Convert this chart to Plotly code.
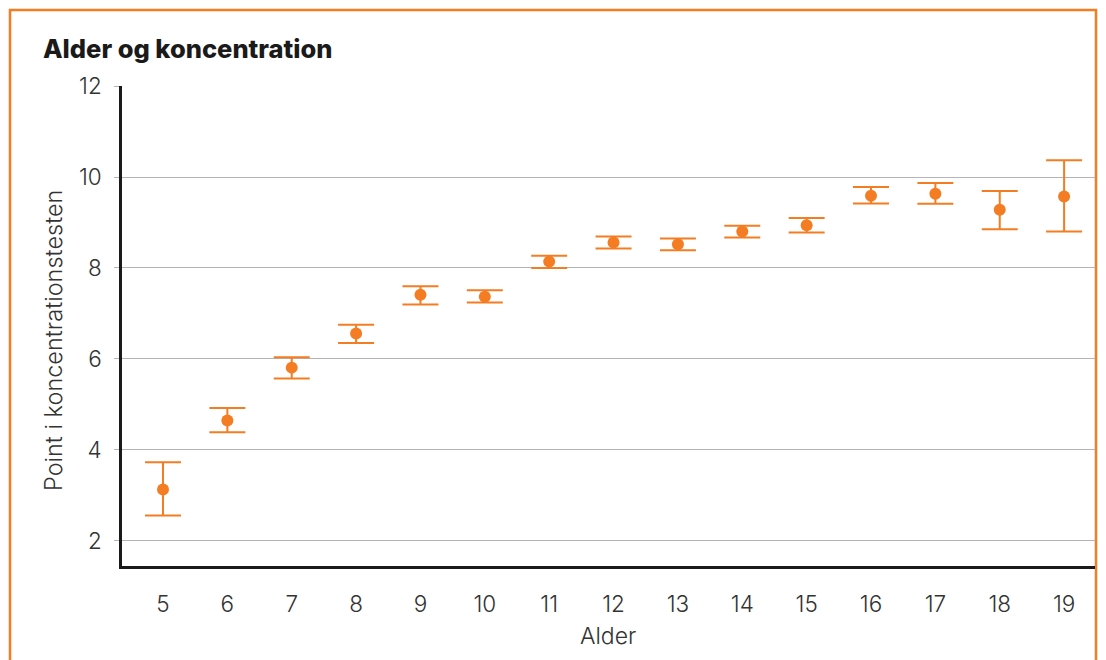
import plotly.graph_objects as go

ages = [5, 6, 7, 8, 9, 10, 11, 12, 13, 14, 15, 16, 17, 18, 19]
means = [3.13, 4.65, 5.81, 6.56, 7.41, 7.37, 8.14, 8.56, 8.52, 8.80, 8.94, 9.59, 9.63, 9.28, 9.57]
upper = [3.73, 4.92, 6.04, 6.75, 7.60, 7.51, 8.27, 8.69, 8.65, 8.93, 9.10, 9.78, 9.87, 9.69, 10.37]
lower = [2.56, 4.39, 5.57, 6.35, 7.20, 7.24, 8.00, 8.43, 8.39, 8.67, 8.78, 9.42, 9.41, 8.85, 8.80]
y_ticks = [2, 4, 6, 8, 10, 12]

ORANGE = "#F47D23"
FONT = "Inter"

err_plus = [u - m for u, m in zip(upper, means)]
err_minus = [m - l for m, l in zip(means, lower)]

fig = go.Figure()
fig.add_trace(go.Scatter(
    x=ages, y=means, mode="markers",
    marker=dict(color=ORANGE, size=12, symbol="circle", line=dict(width=0)),
    error_y=dict(type="data", symmetric=False, array=err_plus, arrayminus=err_minus,
                 color=ORANGE, thickness=2, width=18),
    showlegend=False, hoverinfo="x+y",
))

L, R, T, B = 122, 11, 86, 94
W, H = 1106, 660
pw, ph = W - L - R, H - T - B

tick_font = dict(size=22.5, family=FONT, weight=300, color="#333333")

fig.update_layout(
    width=W, height=H,
    margin=dict(l=L, r=R, t=T, b=B),
    paper_bgcolor="white", plot_bgcolor="white",
    font=dict(family=FONT, color="#333333"),
    xaxis=dict(
        range=[4.363, 19.48], tickvals=ages, ticktext=[str(a) for a in ages],
        showgrid=False, zeroline=False, showline=True, linecolor="#1a1a1a", linewidth=2.5,
        ticks="", tickfont=tick_font,
        ticklabelstandoff=16,
    ),
    yaxis=dict(
        range=[1.45, 12.0], tickvals=y_ticks, ticktext=[str(v) for v in y_ticks],
        showgrid=True, gridcolor="#b4b4b4", gridwidth=1, zeroline=False,
        showline=True, linecolor="#1a1a1a", linewidth=2.5,
        ticks="outside", ticklen=5, tickcolor="#b4b4b4", tickwidth=1,
        tickfont=tick_font, ticklabelstandoff=8,
    ),
)

def px_x(x):
    return (x - L) / pw

def px_y(y):
    return (H - B - y) / ph

fig.add_shape(type="rect", xref="paper", yref="paper",
              x0=px_x(10), x1=px_x(1096), y0=px_y(680), y1=px_y(10),
              line=dict(color=ORANGE, width=2.5), fillcolor="rgba(0,0,0,0)", layer="below")

fig.add_annotation(text="Alder og koncentration", xref="paper", yref="paper",
                   x=px_x(41), y=px_y(48), xanchor="left", yanchor="middle", showarrow=False,
                   font=dict(size=25.5, family=FONT, weight=800, color="#1a1a1a"))
fig.add_annotation(text="Alder", xref="paper", yref="paper",
                   x=px_x(608), y=px_y(636), xanchor="center", yanchor="middle", showarrow=False,
                   font=dict(size=23, family=FONT, weight=300, color="#333333"))
fig.add_annotation(text="Point i koncentrationstesten", xref="paper", yref="paper",
                   x=px_x(53), y=px_y(341), xanchor="center", yanchor="middle", showarrow=False,
                   textangle=-90,
                   font=dict(size=23.5, family=FONT, weight=300, color="#333333"))

fig.write_html("out.html")
